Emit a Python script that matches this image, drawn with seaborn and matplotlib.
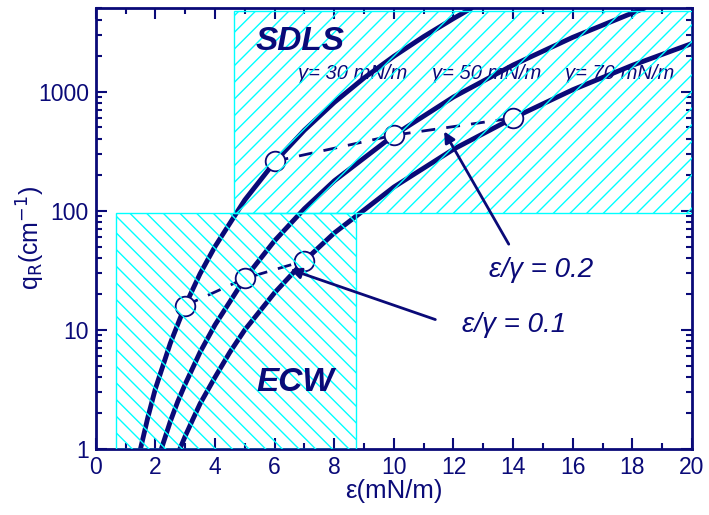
import matplotlib
matplotlib.use("Agg")
import matplotlib.pyplot as plt
import matplotlib.ticker as mticker
from matplotlib.patches import Rectangle
import seaborn as sns
import pandas as pd

# ---- data ----
g30_x = [1.5, 1.75, 2.0, 2.5, 3.0, 3.5, 4.0, 5.0, 6.0, 7.0, 8.0, 9.0, 10.0, 11.0, 12.0, 12.6]
g30_q = [1.0, 1.85, 3.2, 7.7, 16, 29.6, 50, 123, 256, 474, 810, 1300, 1975, 2890, 4100, 5000]
g50_x = [2.2, 2.5, 2.75, 3.0, 3.5, 4.0, 5.0, 6.0, 7.0, 8.0, 10.0, 12.0, 14.0, 16.0, 18.0, 18.4]
g50_q = [1.0, 1.7, 2.5, 3.5, 6.5, 11, 27, 56, 104, 178, 430, 900, 1670, 2850, 4560, 5000]
g70_x = [2.82, 3.0, 3.25, 3.5, 4.0, 4.5, 5.0, 6.0, 7.0, 8.0, 10.0, 12.0, 14.0, 16.0, 18.0, 20.0]
g70_q = [1.0, 1.28, 1.76, 2.4, 4.0, 6.5, 10, 20.5, 38, 65, 158, 328, 600, 1035, 1660, 2530]

r01_x = [3, 5, 7]
r01_q = [16, 27, 38]
r02_x = [6, 10, 14]
r02_q = [260, 430, 600]

curve_labels = ["\u03b3= 30 mN/m", "\u03b3= 50 mN/m", "\u03b3= 70 mN/m"]
yticks = [1, 10, 100, 1000]

navy = "#0a0a78"

sns.set_theme(style="white")
plt.rcParams["font.family"] = ["Liberation Sans", "DejaVu Sans"]
plt.rcParams["hatch.linewidth"] = 1.0

fig = plt.figure(figsize=(7.09, 5.15), dpi=100)
ax = fig.add_axes([0.135, 0.128, 0.841, 0.856])

curves = pd.concat([
    pd.DataFrame({"e": g30_x, "q": g30_q, "c": curve_labels[0]}),
    pd.DataFrame({"e": g50_x, "q": g50_q, "c": curve_labels[1]}),
    pd.DataFrame({"e": g70_x, "q": g70_q, "c": curve_labels[2]}),
])

for xl, lab in zip([6.78, 11.28, 15.74], curve_labels):
    ax.text(xl, 1430, lab, fontsize=14.5, style="italic", color=navy,
            ha="left", va="center", zorder=1)

sns.lineplot(data=curves, x="e", y="q", units="c", estimator=None, sort=False,
             color=navy, lw=3.5, ax=ax, zorder=2)

for xs, qs in [(r01_x, r01_q), (r02_x, r02_q)]:
    d = pd.DataFrame({"e": xs, "q": qs})
    sns.lineplot(data=d, x="e", y="q", color=navy, lw=2, dashes=False,
                 linestyle=(0, (5, 4)), ax=ax, zorder=3)
    sns.scatterplot(data=d, x="e", y="q", s=200, facecolor="white",
                    edgecolor=navy, linewidth=1.3, ax=ax, zorder=4)

ax.set_yscale("log")
ax.set_xlim(0, 20)
ax.set_ylim(1, 5000)

# hatched regions
ax.add_patch(Rectangle((0.67, 1), 8.72 - 0.67, 96 - 1, fill=False,
                       edgecolor="#00ffff", hatch="\\\\", lw=1.0, zorder=5))
ax.add_patch(Rectangle((4.63, 96), 20 - 4.63, 4750 - 96, fill=False,
                       edgecolor="#00ffff", hatch="//", lw=1.0, zorder=5))

# texts
ax.text(6.85, 2650, "SDLS", fontsize=24, fontweight="bold", style="italic",
        color=navy, ha="center", va="center", zorder=6)
ax.text(6.68, 3.6, "ECW", fontsize=24, fontweight="bold", style="italic",
        color=navy, ha="center", va="center", zorder=6)
ax.text(13.2, 31.6, "\u03b5/\u03b3 = 0.2", fontsize=20, style="italic",
        color=navy, ha="left", va="center", zorder=6)
ax.text(12.3, 11, "\u03b5/\u03b3 = 0.1", fontsize=20, style="italic",
        color=navy, ha="left", va="center", zorder=6)

ax.annotate("", xy=(11.64, 485), xytext=(13.9, 50),
            arrowprops=dict(arrowstyle="-|>", color=navy, lw=2, mutation_scale=16),
            zorder=6)
ax.annotate("", xy=(6.44, 32.7), xytext=(11.48, 12),
            arrowprops=dict(arrowstyle="-|>", color=navy, lw=2, mutation_scale=16),
            zorder=6)

# axes styling
ax.set_xlabel("\u03b5(mN/m)", fontsize=18.5, color=navy, labelpad=0)
ax.set_ylabel("q$_\\mathrm{R}$(cm$^{-1}$)", fontsize=18, color=navy)
ax.yaxis.set_label_coords(-0.082, 0.48)
ax.xaxis.set_major_locator(mticker.MultipleLocator(2))
ax.xaxis.set_minor_locator(mticker.MultipleLocator(1))
ax.yaxis.set_major_locator(mticker.FixedLocator(yticks))
ax.yaxis.set_major_formatter(mticker.FixedFormatter([str(v) for v in yticks]))
ax.yaxis.set_minor_locator(mticker.LogLocator(base=10, subs=range(2, 10)))
ax.yaxis.set_minor_formatter(mticker.NullFormatter())
ax.tick_params(which="both", direction="in", top=True, right=True,
               color=navy, labelcolor=navy, labelsize=16.5, width=1.5)
ax.tick_params(which="major", length=8, left=True, bottom=True, pad=5)
ax.tick_params(which="minor", length=4, left=True, bottom=True)
for s in ax.spines.values():
    s.set_color(navy)
    s.set_linewidth(2)

fig.savefig("out.png", dpi=100)
